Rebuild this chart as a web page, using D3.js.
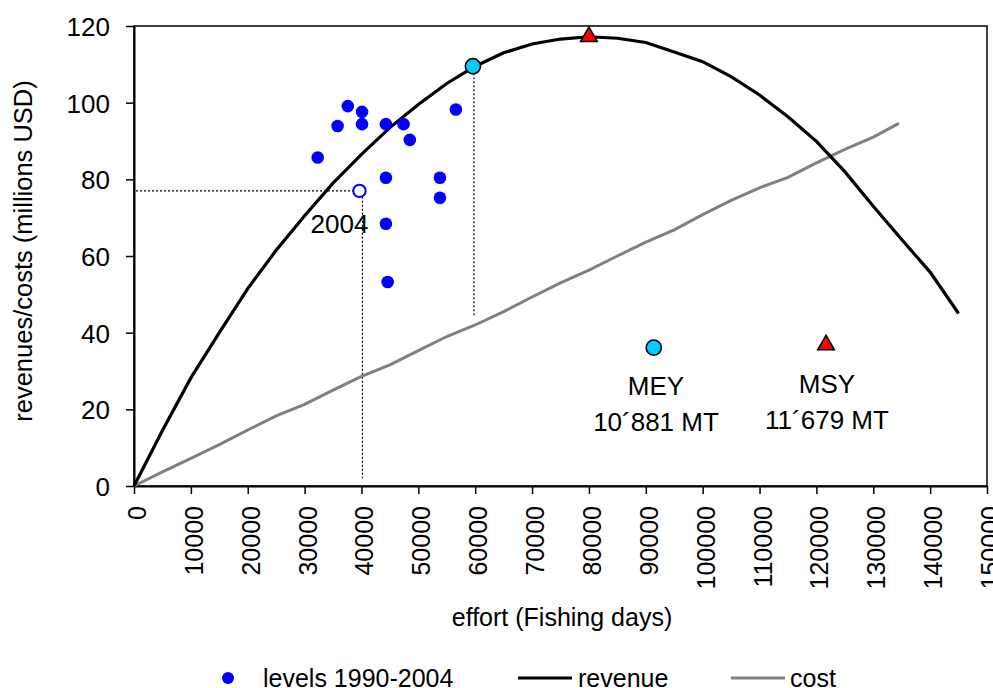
<!DOCTYPE html>
<html>
<head>
<meta charset="utf-8">
<script src="https://cdn.jsdelivr.net/npm/d3@7"></script>
<style>
  body { margin: 0; background: #fff; }
  text { font-family: Arial, "Liberation Sans", sans-serif; fill: #000; }
</style>
</head>
<body>
<div id="chart-area"></div>
<script>
const margin = {left: 134, right: 6, top: 26, bottom: 202},
  width = 993 - margin.left - margin.right,
  height = 688 - margin.top - margin.bottom;

// revenue curve (effort in fishing days, millions USD)
const revEffort = [0, 5000, 10000, 15000, 20000, 25000, 30000, 35000, 40000, 45000,
  50000, 55000, 60000, 65000, 70000, 75000, 80000, 85000, 90000, 95000,
  100000, 105000, 110000, 115000, 120000, 125000, 130000, 135000, 140000, 145000];
const revenue = [0, 14.5, 28.2, 40, 51.5, 61.5, 70.5, 79, 86.5, 93.5,
  99.5, 105, 109.5, 113, 115.3, 116.6, 117.2, 116.8, 115.7, 113.2,
  110.7, 106.8, 102, 96.3, 89.9, 82, 73, 64.3, 55.8, 45];

// cost curve
const costEffort = [0, 5000, 10000, 15000, 20000, 25000, 30000, 35000, 40000, 45000,
  50000, 55000, 60000, 65000, 70000, 75000, 80000, 85000, 90000, 95000,
  100000, 105000, 110000, 115000, 120000, 125000, 130000, 134500];
const cost = [0, 3.7, 7.2, 10.8, 14.6, 18.3, 21.3, 25, 28.6, 31.6,
  35.3, 39, 42, 45.5, 49.3, 53, 56.3, 60, 63.6, 66.8,
  70.8, 74.5, 77.8, 80.5, 84.3, 87.8, 91, 94.6];

// observed levels 1990-2003 (2004 drawn separately)
const levelEffort = [32300, 35800, 37600, 40100, 40100, 44300, 47400, 48500, 56600, 44300, 53800, 53800, 44300, 44600];
const levelRevenue = [85.7, 93.9, 99.1, 97.6, 94.4, 94.4, 94.4, 90.3, 98.2, 80.4, 80.4, 75.2, 68.4, 53.2];
const point2004 = [40000, 77];

const meyPoint = [59600, 109.5];
const msyPoint = [80000, 117.2];
const meyLegendPt = [91400, 36.1];
const msyLegendPt = [121700, 36.8];

const xTicks = d3.range(0, 150001, 10000);
const yTicks = [0, 20, 40, 60, 80, 100, 120];

const svg = d3.select("#chart-area").append("svg")
  .attr("width", 993)
  .attr("height", 688);

const g = svg.append("g")
  .attr("transform", "translate(" + margin.left + "," + margin.top + ")");

const x = d3.scaleLinear().domain([0, 150000]).range([0, width]);
const y = d3.scaleLinear().domain([0, 120]).range([height, 0]);

// plot frame
g.append("rect")
  .attr("width", width)
  .attr("height", height)
  .attr("fill", "none")
  .attr("stroke", "#000")
  .attr("stroke-width", 1.5);

// Axes
const xAxis = g.append("g")
  .attr("transform", "translate(0," + height + ")")
  .call(d3.axisBottom(x).tickValues(xTicks).tickSize(8).tickSizeOuter(0).tickFormat(d3.format("d")));
xAxis.selectAll("text")
  .attr("x", 0).attr("y", 0).attr("dy", "0.36em")
  .attr("transform", "translate(2.5,20) rotate(-90)")
  .style("text-anchor", "end")
  .style("font-size", "25px");

const yAxis = g.append("g")
  .call(d3.axisLeft(y).tickValues(yTicks).tickSize(8).tickSizeOuter(0));
yAxis.selectAll("text")
  .attr("x", -24).attr("dy", "0.36em")
  .style("text-anchor", "end")
  .style("font-size", "26px");

[xAxis, yAxis].forEach(a => {
  a.select(".domain").attr("stroke", "#000").attr("stroke-width", 2);
  a.selectAll(".tick line").attr("stroke", "#000").attr("stroke-width", 1.5);
  a.selectAll("text").attr("fill", "#000").style("font-family", "Arial, 'Liberation Sans', sans-serif");
});

// axis titles
svg.append("text")
  .attr("transform", "translate(32,251) rotate(-90)")
  .style("text-anchor", "middle")
  .style("font-size", "25.5px")
  .text("revenues/costs (millions USD)");

svg.append("text")
  .attr("x", 562).attr("y", 626)
  .style("text-anchor", "middle")
  .style("font-size", "25px")
  .text("effort (Fishing days)");

// dotted guide lines
const dotted = (x1, y1, x2, y2) => g.append("line")
  .attr("x1", x1).attr("y1", y1).attr("x2", x2).attr("y2", y2)
  .attr("stroke", "#000")
  .attr("stroke-width", 1.2)
  .attr("stroke-dasharray", "2,2");
dotted(x(0) + 2, y(point2004[1]), x(point2004[0]) - 6, y(point2004[1]));
dotted(x(point2004[0]) + 1, y(point2004[1]) + 6, x(point2004[0]) + 1, y(2));
dotted(x(meyPoint[0]) + 1, y(meyPoint[1]) + 7, x(meyPoint[0]) + 1, y(44.3));

// curves
const revLine = d3.line().x((d, i) => x(revEffort[i])).y(d => y(d));
const costLine = d3.line().x((d, i) => x(costEffort[i])).y(d => y(d));

g.append("path")
  .attr("d", costLine(cost))
  .attr("fill", "none")
  .attr("stroke", "#808080")
  .attr("stroke-width", 3);

g.append("path")
  .attr("d", revLine(revenue))
  .attr("fill", "none")
  .attr("stroke", "#000")
  .attr("stroke-width", 3.2);

// observed levels
g.selectAll(".level")
  .data(levelEffort)
  .enter().append("circle")
  .attr("class", "level")
  .attr("cx", d => x(d))
  .attr("cy", (d, i) => y(levelRevenue[i]))
  .attr("r", 6.3)
  .attr("fill", "#0000ff");

g.append("circle")
  .attr("cx", x(point2004[0]) - 2)
  .attr("cy", y(point2004[1]))
  .attr("r", 6.2)
  .attr("fill", "#fff")
  .attr("stroke", "#0000ff")
  .attr("stroke-width", 2);

g.append("text")
  .attr("x", x(point2004[0]) - 22).attr("y", 233 - margin.top)
  .style("text-anchor", "middle")
  .style("font-size", "26px")
  .text("2004");

// MEY / MSY markers
const tri = d3.symbol(d3.symbolTriangle).size(120);
[meyPoint, meyLegendPt].forEach(p => {
  g.append("circle")
    .attr("cx", x(p[0])).attr("cy", y(p[1]))
    .attr("r", 7.6)
    .attr("fill", "#00ccff")
    .attr("stroke", "#000")
    .attr("stroke-width", 1.6);
});
[msyPoint, msyLegendPt].forEach(p => {
  g.append("path")
    .attr("d", tri())
    .attr("transform", "translate(" + x(p[0]) + "," + y(p[1]) + ")")
    .attr("fill", "#ff0000")
    .attr("stroke", "#000")
    .attr("stroke-width", 1.6);
});

const annot = (text, cx, base) => g.append("text")
  .attr("x", cx - margin.left).attr("y", base - margin.top)
  .style("text-anchor", "middle")
  .style("font-size", "26px")
  .text(text);
annot("MEY", 656, 395);
annot("10\u00b4881 MT", 656, 431);
annot("MSY", 827, 393);
annot("11\u00b4679 MT", 827, 429);

// Legend
const legend = svg.append("g");
legend.append("circle")
  .attr("cx", 228).attr("cy", 678)
  .attr("r", 6)
  .attr("fill", "#0000ff");
legend.append("text")
  .attr("x", 263).attr("y", 687)
  .style("font-size", "25px")
  .text("levels 1990-2004");
legend.append("line")
  .attr("x1", 518).attr("x2", 572).attr("y1", 678).attr("y2", 678)
  .attr("stroke", "#000").attr("stroke-width", 3.2);
legend.append("text")
  .attr("x", 578).attr("y", 687)
  .style("font-size", "25px")
  .text("revenue");
legend.append("line")
  .attr("x1", 731).attr("x2", 785).attr("y1", 678).attr("y2", 678)
  .attr("stroke", "#808080").attr("stroke-width", 3);
legend.append("text")
  .attr("x", 790).attr("y", 687)
  .style("font-size", "25px")
  .text("cost");
</script>
</body>
</html>
